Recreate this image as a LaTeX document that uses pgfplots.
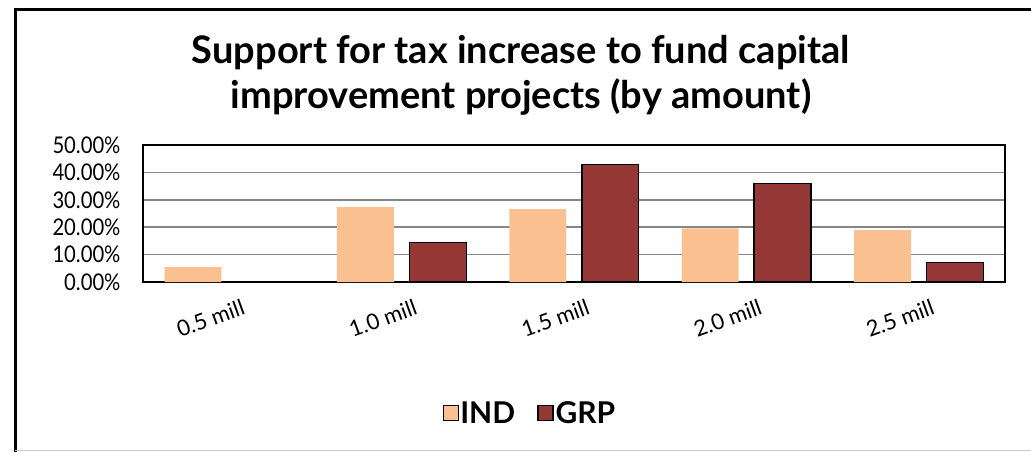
\documentclass[border=0pt]{standalone}
\usepackage{pgfplots}
\pgfplotsset{compat=1.18}
\usepackage{fontspec}
\setmainfont{Lato}
\newfontfamily\tickfont[FakeStretch=0.88]{Lato}
\definecolor{ind}{RGB}{250,192,143}
\definecolor{grp}{RGB}{149,55,53}
\definecolor{gridg}{RGB}{134,134,134}
\begin{document}
\begin{tikzpicture}[x=1pt,y=1pt]
\useasboundingbox (0,0) rectangle (1031,451);
\fill[white] (0,0) rectangle (1031,451);
\draw[line width=3pt] (15,-5) -- (15,441) -- (1040,441);
\draw[gray!40, line width=1pt] (15,0.5) -- (1031,0.5);
\node[align=center, font=\fontsize{38}{45}\selectfont\bfseries] at (521,376)
  {Support for tax increase to fund capital\\improvement projects (by amount)};
\begin{axis}[
  at={(143pt,169pt)}, anchor=south west,
  scale only axis, width=862pt, height=137pt,
  xmin=-0.5, xmax=4.5, ymin=0, ymax=50,
  ybar, bar width=0.33,
  xtick={0,1,2,3,4},
  xticklabels={0.5 mill,1.0 mill,1.5 mill,2.0 mill,2.5 mill},
  x tick label style={rotate=20, anchor=north east, xshift=10pt, yshift=-12pt, font=\fontsize{22}{24}\selectfont},
  ytick={0,10,20,30,40,50},
  yticklabel={\pgfmathprintnumber[fixed,fixed zerofill,precision=2]{\tick}\%},
  y tick label style={font=\fontsize{23}{25}\selectfont\tickfont, xshift=-19pt},
  /pgf/number format/assume math mode=true,
  tick style={draw=none},
  ymajorgrids, grid style={gridg, line width=1.5pt},
  axis line style={black, line width=1.5pt},
  legend columns=2,
  legend style={at={(0.449,-0.956)}, anchor=center, draw=none, fill=none,
    font=\fontsize{30}{32}\selectfont\bfseries,
    /tikz/every even column/.append style={column sep=20pt}},
  legend image code/.code={\draw[#1] (0pt,-7.5pt) rectangle (15pt,7.5pt);},
]
\addplot[fill=ind, draw=none, bar shift=-0.21] coordinates {(0,5.4) (1,27.3) (2,26.6) (3,19.6) (4,18.9)};
\addplot[fill=grp, draw=black, line width=1.5pt, bar shift=0.21] coordinates {(0,0) (1,14.4) (2,42.9) (3,35.9) (4,7.2)};
\legend{IND,GRP}
\end{axis}
\end{tikzpicture}
\end{document}
